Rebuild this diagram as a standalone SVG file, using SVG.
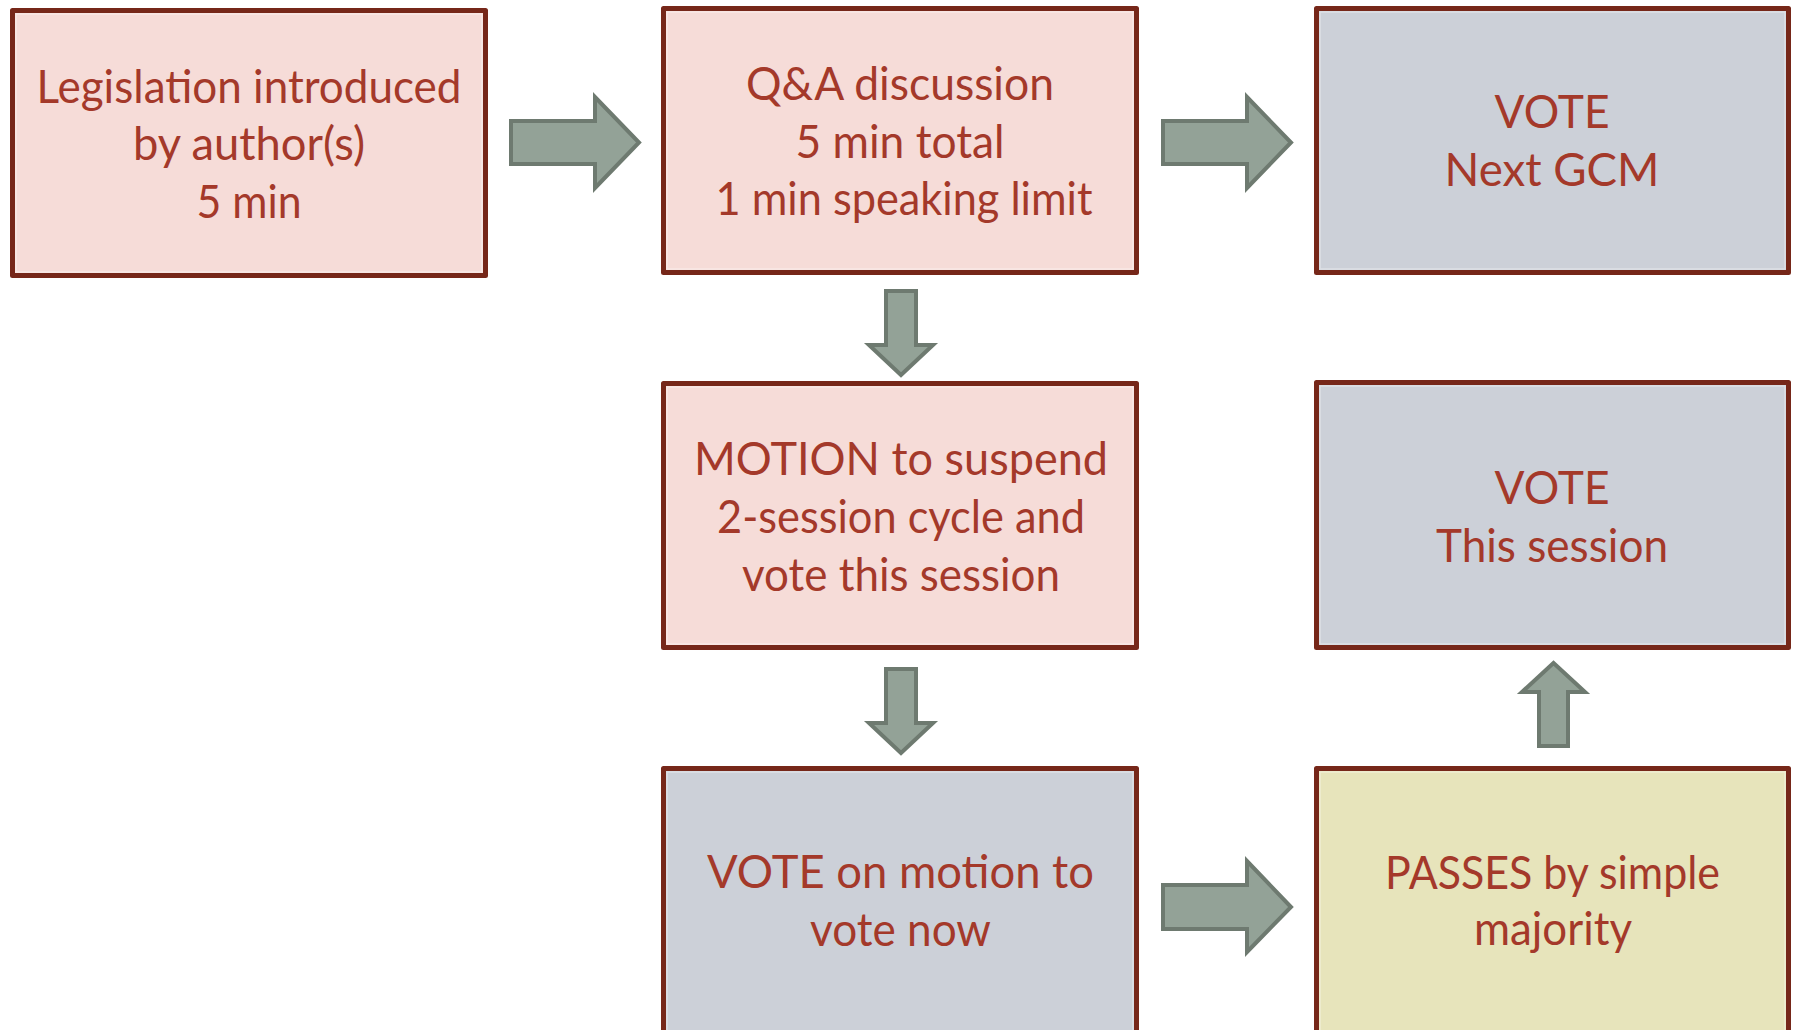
<svg xmlns="http://www.w3.org/2000/svg" width="1798" height="1030" viewBox="0 0 1798 1030">
<style>
.box{stroke:#762719;stroke-width:5;stroke-linejoin:round}
.pink{fill:#F6DCD8}
.gray{fill:#CCD0D8}
.yellow{fill:#E7E4BB}
.inner{fill:none;stroke:#ffffff;stroke-opacity:0.35;stroke-width:1.5}
.arrow{fill:#93A297;stroke:#6E7A70;stroke-width:4;stroke-linejoin:miter}
text{font-family:Lato,"Open Sans","Liberation Sans",sans-serif;font-size:46px;fill:#A4392A;text-anchor:middle}
</style>
<rect width="1798" height="1030" fill="#ffffff"/>
<g id="connectors">
<path class="arrow" d="M511,121 H595 V97 L639,142.5 L595,188 V164 H511 Z"/>
<path class="arrow" d="M1163,121 H1247 V97 L1291,142.5 L1247,188 V164 H1163 Z"/>
<path class="arrow" d="M1163,885 H1247 V861 L1291,907 L1247,952 V929 H1163 Z"/>
<path class="arrow" d="M886,291 H916 V345 H933 L901,375 L869,345 H886 Z"/>
<path class="arrow" d="M886,669 H916 V723 H933 L901,753 L869,723 H886 Z"/>
<path class="arrow" d="M1539,746 H1568 V692 H1585 L1553.5,663 L1522,692 H1539 Z"/>
</g>
<g id="node-legislation">
<rect class="box pink" x="12.5" y="10.5" width="473" height="265"/>
<rect class="inner" x="16" y="14" width="466" height="258"/>
<text x="249" y="103" textLength="425" lengthAdjust="spacingAndGlyphs">Legislation introduced</text>
<text x="249" y="160" textLength="232" lengthAdjust="spacingAndGlyphs">by author(s)</text>
<text x="249" y="218" textLength="105" lengthAdjust="spacingAndGlyphs">5 min</text>
</g>
<g id="node-qa">
<rect class="box pink" x="663.5" y="8.5" width="473" height="264"/>
<rect class="inner" x="667" y="12" width="466" height="257"/>
<text x="900" y="100" textLength="308" lengthAdjust="spacingAndGlyphs">Q&amp;A discussion</text>
<text x="900" y="158" textLength="209" lengthAdjust="spacingAndGlyphs">5 min total</text>
<text x="904" y="215" textLength="377" lengthAdjust="spacingAndGlyphs">1 min speaking limit</text>
</g>
<g id="node-vote-next">
<rect class="box gray" x="1316.5" y="8.5" width="472" height="264"/>
<rect class="inner" x="1320" y="12" width="465" height="257"/>
<text x="1552" y="128" textLength="115" lengthAdjust="spacingAndGlyphs">VOTE</text>
<text x="1552" y="186" textLength="215" lengthAdjust="spacingAndGlyphs">Next GCM</text>
</g>
<g id="node-motion">
<rect class="box pink" x="663.5" y="383.5" width="473" height="264"/>
<rect class="inner" x="667" y="387" width="466" height="257"/>
<text x="901" y="475" textLength="414" lengthAdjust="spacingAndGlyphs">MOTION to suspend</text>
<text x="901" y="533" textLength="368" lengthAdjust="spacingAndGlyphs">2-session cycle and</text>
<text x="901" y="591" textLength="318" lengthAdjust="spacingAndGlyphs">vote this session</text>
</g>
<g id="node-vote-this">
<rect class="box gray" x="1316.5" y="382.5" width="472" height="265"/>
<rect class="inner" x="1320" y="386" width="465" height="258"/>
<text x="1552" y="504" textLength="115" lengthAdjust="spacingAndGlyphs">VOTE</text>
<text x="1552" y="562" textLength="232" lengthAdjust="spacingAndGlyphs">This session</text>
</g>
<g id="node-vote-motion">
<rect class="box gray" x="663.5" y="768.5" width="473" height="300"/>
<rect class="inner" x="667" y="772" width="466" height="300"/>
<text x="900.5" y="888" textLength="387" lengthAdjust="spacingAndGlyphs">VOTE on motion to</text>
<text x="900.5" y="946" textLength="181" lengthAdjust="spacingAndGlyphs">vote now</text>
</g>
<g id="node-passes">
<rect class="box yellow" x="1316.5" y="768.5" width="472" height="300"/>
<rect class="inner" x="1320" y="772" width="465" height="300"/>
<text x="1552.5" y="889" textLength="335" lengthAdjust="spacingAndGlyphs">PASSES by simple</text>
<text x="1553" y="945" textLength="158" lengthAdjust="spacingAndGlyphs">majority</text>
</g>
</svg>
